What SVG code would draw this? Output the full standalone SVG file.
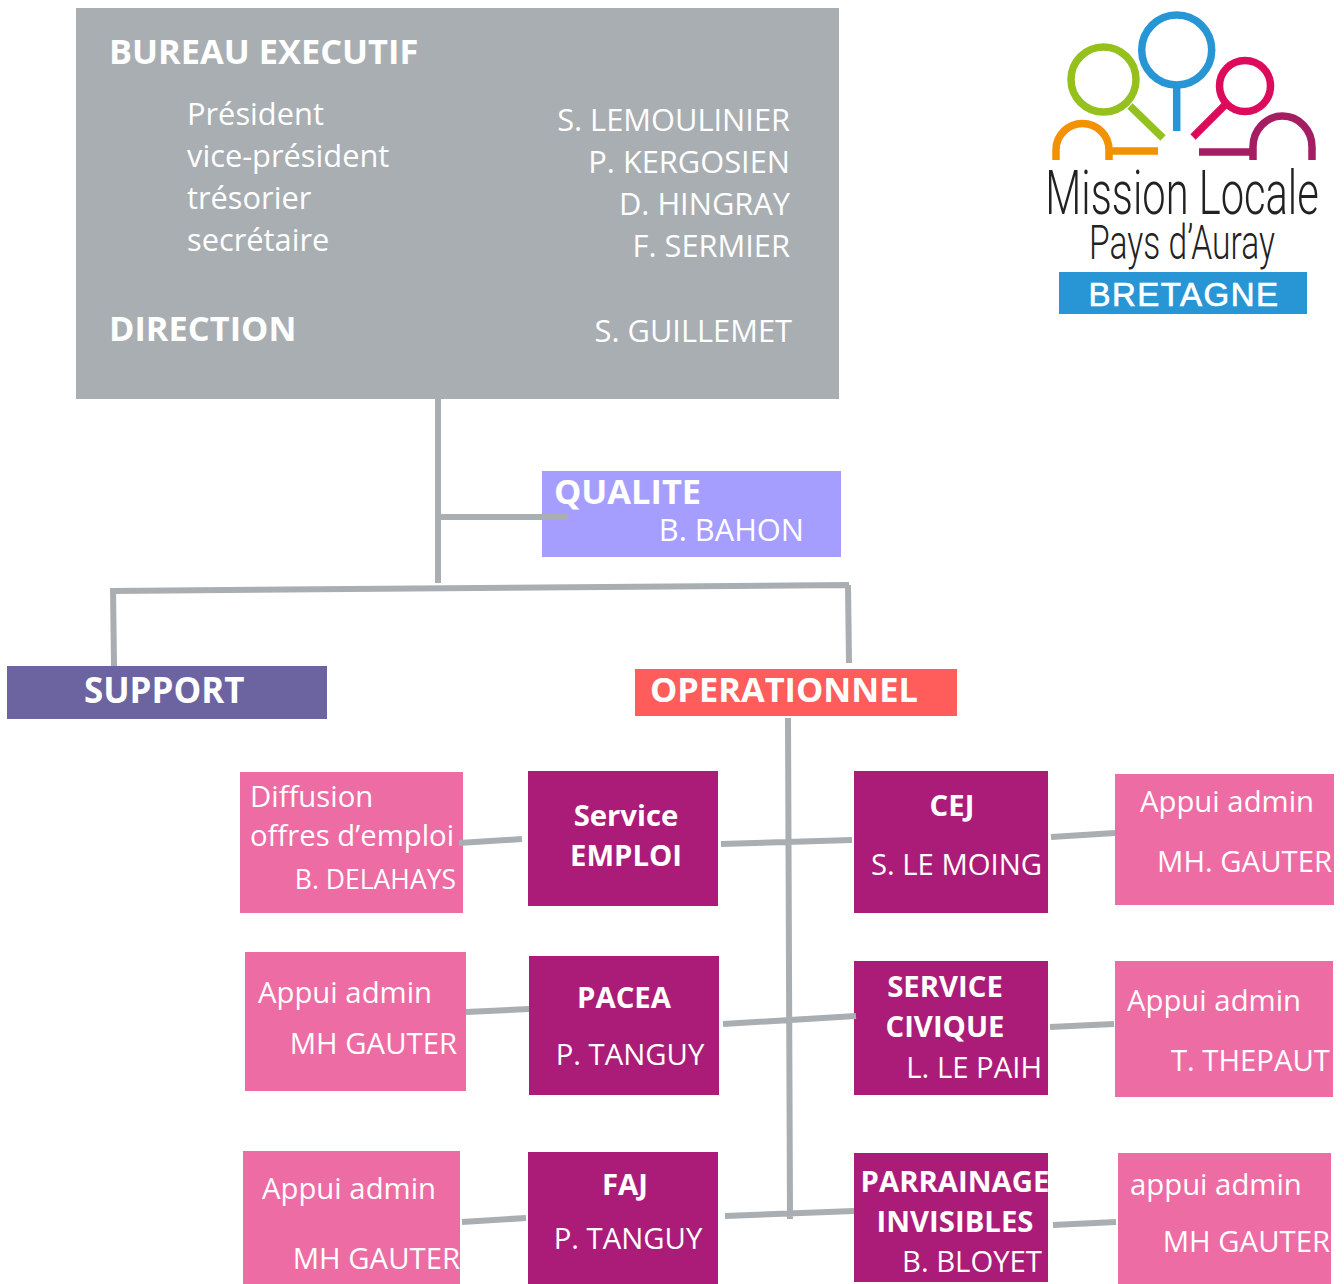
<svg xmlns="http://www.w3.org/2000/svg" width="1344" height="1284" viewBox="0 0 1344 1284">
<style>
text{font-family:"Open Sans","Noto Sans",sans-serif;fill:#fff;font-size:29.3px}
.t{font-size:30.8px}
.h{font-size:34.4px;font-weight:700}
.b{font-weight:700}
.e{text-anchor:end}
.m{text-anchor:middle}
.c{stroke:#a9aeb2;stroke-width:6;fill:none}
.p{fill:#ee6ca4}
.d{fill:#ab1c78}
.lg{fill:none;stroke-width:7.5}
.lt{fill:#222;font-family:Roboto,"Liberation Sans",sans-serif;font-weight:300;text-anchor:middle}
</style>
<rect width="1344" height="1284" fill="#fff"/>
<g id="bureau"><rect x="76" y="8" width="763" height="391" fill="#a9aeb2"/>
<text class="h" x="109" y="64">BUREAU EXECUTIF</text>
<text class="t" x="187" y="125">Président</text><text class="t" x="187" y="167">vice-président</text><text class="t" x="187" y="209">trésorier</text><text class="t" x="187" y="251">secrétaire</text>
<text class="t e" x="790" y="131">S. LEMOULINIER</text><text class="t e" x="790" y="173">P. KERGOSIEN</text><text class="t e" x="790" y="215">D. HINGRAY</text><text class="t e" x="790" y="257">F. SERMIER</text>
<text class="h" x="109" y="341">DIRECTION</text><text class="t e" x="792" y="342">S. GUILLEMET</text></g>
<g id="qualite"><rect x="542" y="471" width="299" height="86" fill="#a69eff"/><text class="h" x="554" y="504">QUALITE</text><text class="t e" x="804" y="541">B. BAHON</text></g>
<g id="support"><rect x="7" y="666" width="320" height="53" fill="#6c64a0"/><text class="h" x="84" y="703" style="font-size:34.9px">SUPPORT</text></g>
<g id="operationnel"><rect x="635" y="669" width="322" height="47" fill="#ff5c5c"/><text class="h" x="650" y="702">OPERATIONNEL</text></g>
<g id="diffusion"><rect class="p" x="240" y="772" width="223" height="141"/><text x="250" y="807">Diffusion</text><text x="250" y="846">offres d’emploi</text><text class="e" x="456" y="889" style="font-size:26.5px">B. DELAHAYS</text></g>
<g id="emploi"><rect class="d" x="528" y="771" width="190" height="135"/><text class="b m" x="626" y="826">Service</text><text class="b m" x="626" y="866">EMPLOI</text></g>
<g id="cej"><rect class="d" x="854" y="771" width="194" height="142"/><text class="b m" x="952" y="816">CEJ</text><text class="m" x="956.500" y="875">S. LE MOING</text></g>
<g id="appui1"><rect class="p" x="1115" y="774" width="219" height="131"/><text x="1140" y="812">Appui admin</text><text class="e" x="1332" y="872">MH. GAUTER</text></g>
<g id="appui2"><rect class="p" x="245" y="952" width="221" height="139"/><text x="258" y="1003">Appui admin</text><text class="e" x="457" y="1054">MH GAUTER</text></g>
<g id="pacea"><rect class="d" x="529" y="956" width="190" height="139"/><text class="b m" x="624" y="1008">PACEA</text><text class="m" x="630" y="1065">P. TANGUY</text></g>
<g id="civique"><rect class="d" x="854" y="961" width="194" height="134"/><text class="b m" x="945" y="997">SERVICE</text><text class="b m" x="945" y="1037">CIVIQUE</text><text class="e" x="1042" y="1078">L. LE PAIH</text></g>
<g id="appui3"><rect class="p" x="1115" y="961" width="218" height="136"/><text x="1127" y="1011">Appui admin</text><text class="e" x="1330" y="1071">T. THEPAUT</text></g>
<g id="appui4"><rect class="p" x="243" y="1151" width="217" height="133"/><text x="262" y="1199">Appui admin</text><text class="e" x="460" y="1269">MH GAUTER</text></g>
<g id="faj"><rect class="d" x="528" y="1152" width="190" height="132"/><text class="b m" x="625" y="1195">FAJ</text><text class="m" x="628" y="1249">P. TANGUY</text></g>
<g id="parrainage"><rect class="d" x="854" y="1153" width="194" height="129"/><text class="b m" x="955" y="1192">PARRAINAGE</text><text class="b m" x="955" y="1232">INVISIBLES</text><text class="e" x="1042" y="1272">B. BLOYET</text></g>
<g id="appui5"><rect class="p" x="1118" y="1153" width="213" height="131"/><text x="1130" y="1195">appui admin</text><text class="e" x="1330" y="1252">MH GAUTER</text></g>
<g id="logo">
<circle cx="1103.500" cy="79.500" r="32.500" class="lg" stroke="#95c11f"/><path class="lg" stroke="#95c11f" d="M1130 106L1163 138"/>
<circle cx="1176.700" cy="50" r="35" class="lg" stroke="#2896d5"/><path class="lg" stroke="#2896d5" d="M1176.700 85V131"/>
<circle cx="1245" cy="86" r="25.500" class="lg" stroke="#dc0b5b"/><path class="lg" stroke="#dc0b5b" d="M1225 105L1193 137"/>
<path class="lg" stroke="#f39200" d="M1056 160V150A26.500 26.500 0 0 1 1109 150V160M1110 151H1158"/>
<path class="lg" stroke="#a51e63" d="M1199 152H1252M1253 160V147A29.500 31 0 0 1 1312 147V160"/>
<text class="lt" transform="translate(1182,214) scale(.672,1)" style="font-size:62px">Mission Locale</text>
<text class="lt" transform="translate(1182,259) scale(.7,1)" style="font-size:48px">Pays d’Auray</text>
<rect x="1059" y="272" width="248" height="42" fill="#2896d5"/>
<text x="1184" y="306" text-anchor="middle" style="font-family:'Liberation Sans',sans-serif;font-size:33px;letter-spacing:1.500px;stroke:#fff;stroke-width:.7">BRETAGNE</text>
</g>
<g id="connectors">
<path class="c" d="M438 399V583M438 517H568M112 591L849 585M113 588L114 666M848 585L849 663M788 718L790 1219M721 844L852 840M459 843L522 839M1051 837L1115 833M466 1012L529 1009M723 1024L856 1016M1050 1027L1114 1024M462 1222L526 1218M725 1216L854 1211M1053 1225L1116 1222"/>
</g>
</svg>
